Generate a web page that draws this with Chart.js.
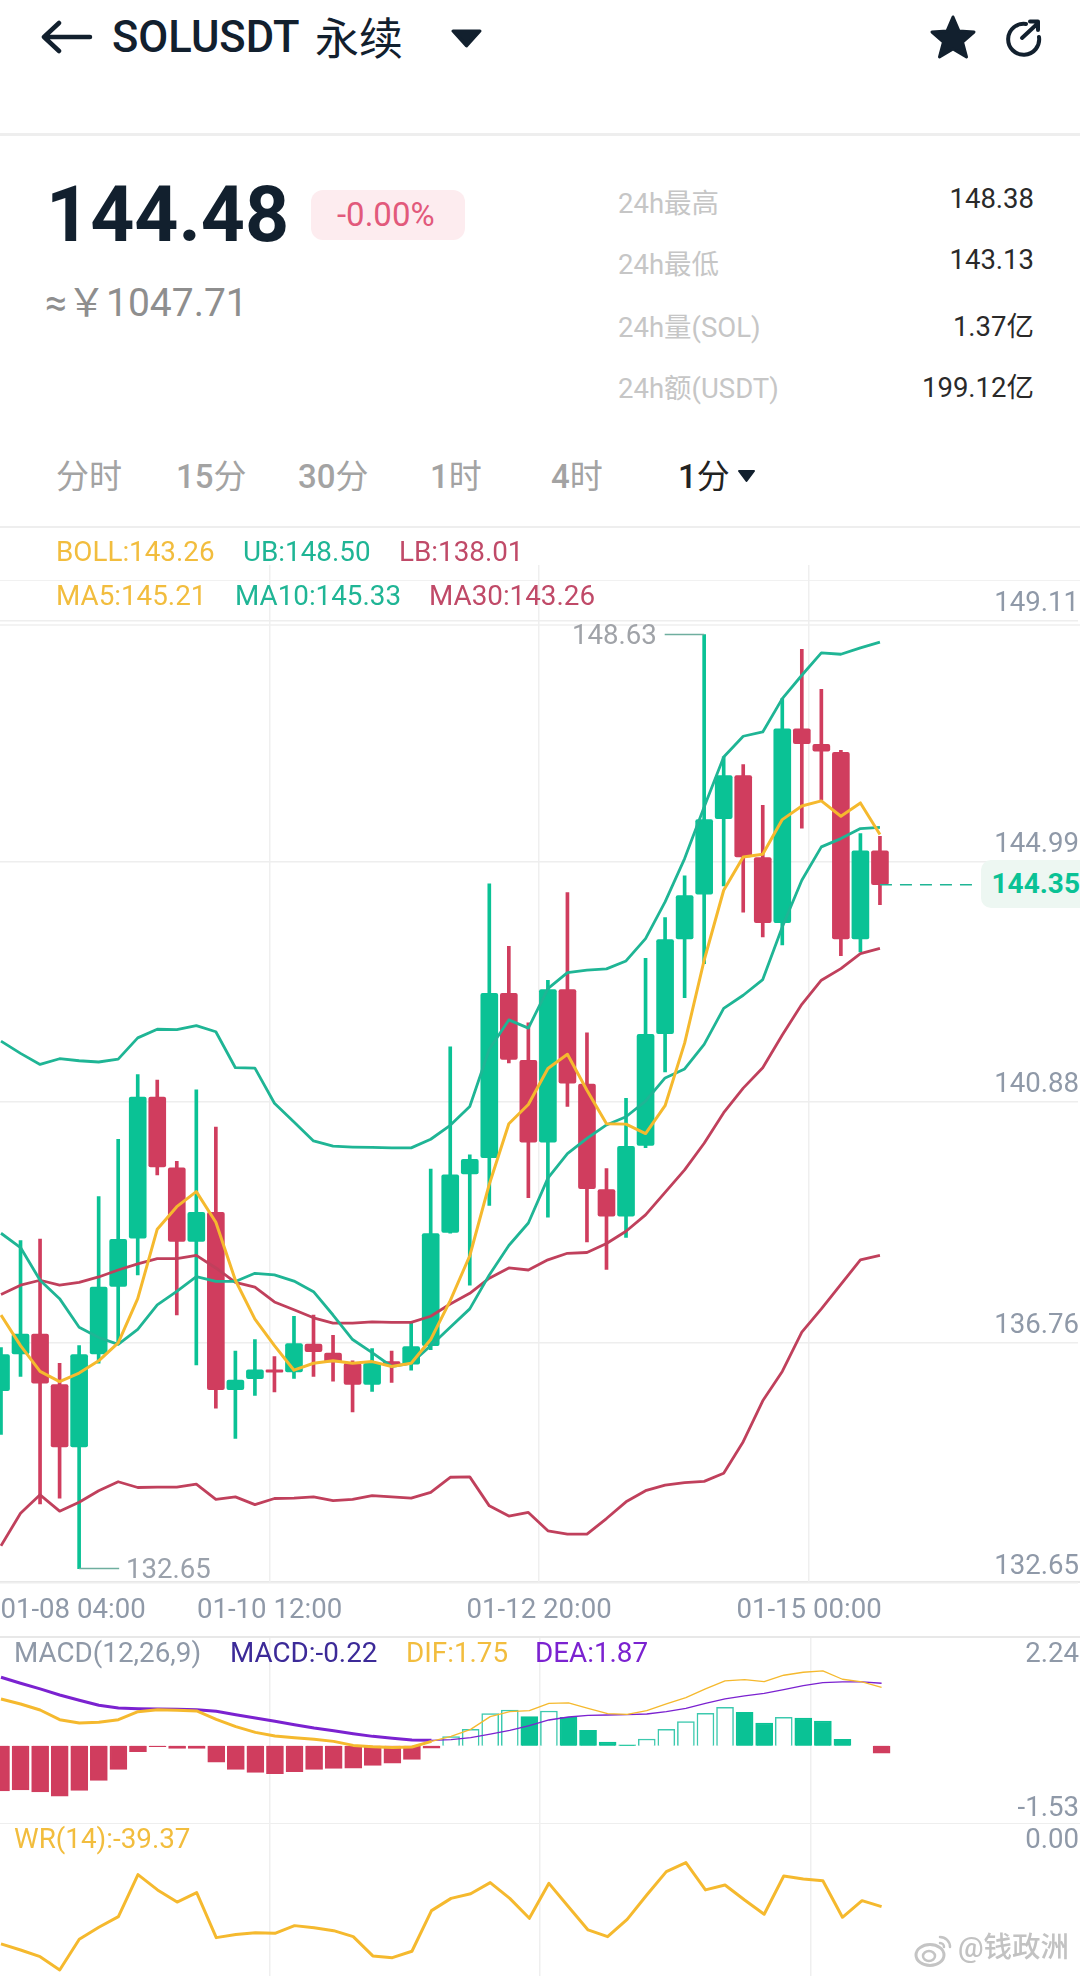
<!DOCTYPE html>
<html lang="zh">
<head>
<meta charset="utf-8">
<title>SOLUSDT</title>
<script src="https://cdn.jsdelivr.net/npm/chart.js@4"></script>
<style>
  html,body{margin:0;padding:0;background:#fff;}
  body{position:relative;width:1080px;height:1976px;overflow:hidden;font-family:Roboto,'Noto Sans CJK SC',sans-serif;}
  canvas{position:absolute;left:0;}
  .t{position:absolute;white-space:nowrap;transform:translateY(-50%);line-height:1.2;}
  .r{transform:translate(-100%,-50%);}
  .hr{position:absolute;left:0;width:1080px;}
  svg{position:absolute;}
  .stat{font-size:27.5px;color:#c6c6c6;left:618px;}
  .val{font-size:27.5px;color:#2a2a2a;left:1034px;}
  .tab{font-size:33px;color:#a3a3a3;font-weight:400;}
  .tab b{font-weight:500;}
  .leg{font-size:27.8px;}
  .ax{font-size:27.6px;color:#8f99a8;left:1079px;}
</style>
</head>
<body>
<!-- header -->
<svg style="left:40px;top:20px" width="54" height="34" viewBox="0 0 54 34"><path d="M19 3 L4 17 L19 31 M4 17 H50" fill="none" stroke="#12202e" stroke-width="4.5" stroke-linecap="round" stroke-linejoin="round"/></svg>
<div class="t" style="left:112px;top:38px;font-size:43.5px;font-weight:500;color:#12202e">SOLUSDT</div>
<div class="t" style="left:315px;top:40px;font-size:44px;font-weight:400;color:#12202e">永续</div>
<svg style="left:450px;top:29px" width="33" height="19" viewBox="0 0 33 19"><path d="M3 2 H30 L16.5 17 Z" fill="#12202e" stroke="#12202e" stroke-width="3" stroke-linejoin="round"/></svg>
<svg style="left:928px;top:14px" width="50" height="46" viewBox="0 0 50 46"><path d="M25 3 L31 17 L46 18 L34.500 28 L38.500 43 L25 35 L11.500 43 L15.500 28 L4 18 L19 17 Z" fill="#12202e" stroke="#12202e" stroke-width="3" stroke-linejoin="round"/></svg>
<svg style="left:1002px;top:18px" width="42" height="40" viewBox="0 0 42 40"><path d="M24 6 A15.500 15.500 0 1 0 37 19" fill="none" stroke="#12202e" stroke-width="4" stroke-linecap="round"/><path d="M20 20 L34 7 M28 3.500 H36 V12" fill="none" stroke="#12202e" stroke-width="4" stroke-linecap="round" stroke-linejoin="round"/></svg>
<div class="hr" style="top:133px;height:3px;background:#eeeeee"></div>

<div class="t" style="left:46px;top:215px;font-size:77px;font-weight:700;color:#12202e">144.48</div>
<div style="position:absolute;left:311px;top:190px;width:154px;height:50px;border-radius:12px;background:#fdecef"></div>
<div class="t" style="left:337px;top:215px;font-size:33px;color:#e2597b">-0.00%</div>
<div class="t" style="left:45px;top:303px;font-size:39px;color:#8e8e8e">≈￥1047.71</div>

<div class="t stat" style="top:203px">24h最高</div>
<div class="t stat" style="top:264px">24h最低</div>
<div class="t stat" style="top:327px">24h量(SOL)</div>
<div class="t stat" style="top:388px">24h额(USDT)</div>
<div class="t r val" style="top:198px">148.38</div>
<div class="t r val" style="top:259px">143.13</div>
<div class="t r val" style="top:326px">1.37亿</div>
<div class="t r val" style="top:387px">199.12亿</div>

<div class="t tab" style="left:56px;top:477px">分时</div>
<div class="t tab" style="left:176px;top:477px"><b>15</b>分</div>
<div class="t tab" style="left:298px;top:477px"><b>30</b>分</div>
<div class="t tab" style="left:430px;top:477px"><b>1</b>时</div>
<div class="t tab" style="left:551px;top:477px"><b>4</b>时</div>
<div class="t tab" style="left:678px;top:477px;color:#222"><b>1</b>分</div>
<svg style="left:737px;top:469px" width="19" height="14" viewBox="0 0 19 14"><path d="M2 2 H17 L9.500 12 Z" fill="#12202e" stroke="#12202e" stroke-width="2" stroke-linejoin="round"/></svg>
<div class="hr" style="top:526px;height:2px;background:#eeeeee"></div>

<!-- panel rules -->
<div class="hr" style="top:580px;height:1px;background:#f1f1f1"></div>
<div class="hr" style="top:624px;height:2px;background:#f3f3f3"></div>
<div class="hr" style="top:1581px;height:2px;background:#e8e8e8"></div>
<div class="hr" style="top:1636px;height:2px;background:#e8e8e8"></div>
<div class="hr" style="top:1823px;height:1px;background:#eeeeee"></div>

<canvas id="mainChart" width="1080" height="1100" style="top:540px"></canvas>
<canvas id="macdChart" width="1080" height="185" style="top:1638px"></canvas>
<canvas id="wrChart" width="1080" height="153" style="top:1823px"></canvas>

<!-- legends -->
<div class="t leg" style="left:56px;top:552px;color:#f2bd3e">BOLL:143.26</div>
<div class="t leg" style="left:243px;top:552px;color:#1fb595">UB:148.50</div>
<div class="t leg" style="left:399px;top:552px;color:#c04a68">LB:138.01</div>
<div class="t leg" style="left:56px;top:596px;color:#f2bd3e">MA5:145.21</div>
<div class="t leg" style="left:235px;top:596px;color:#1fb595">MA10:145.33</div>
<div class="t leg" style="left:429px;top:596px;color:#c04a68">MA30:143.26</div>

<div class="t" style="left:572px;top:635px;font-size:27.6px;color:#a0a3a8">148.63</div>
<div class="t" style="left:126px;top:1569px;font-size:27.6px;color:#9aa1ab">132.65</div>

<div style="position:absolute;left:981px;top:860px;width:99px;height:48px;border-radius:10px 0 0 10px;background:#edf7f2"></div>
<div class="t r" style="left:1080px;top:884px;font-size:28px;font-weight:700;color:#0ac295">144.35</div>

<div class="t leg" style="left:14px;top:1653px;color:#8f99a8">MACD(12,26,9)</div>
<div class="t leg" style="left:230px;top:1653px;color:#3c2a98">MACD:-0.22</div>
<div class="t leg" style="left:406px;top:1653px;color:#f2bd3e">DIF:1.75</div>
<div class="t leg" style="left:535px;top:1653px;color:#7b22d0">DEA:1.87</div>
<div class="t r ax" style="top:1653px">2.24</div>
<div class="t r ax" style="top:1807px">-1.53</div>
<div class="t leg" style="left:14px;top:1839px;color:#f2bd3e">WR(14):-39.37</div>
<div class="t r ax" style="top:1839px">0.00</div>

<!-- watermark -->
<svg style="left:914px;top:1932px" width="40" height="36" viewBox="0 0 40 36"><ellipse cx="16" cy="23" rx="14" ry="10.500" fill="#fff" stroke="#c4c4c4" stroke-width="3"/><ellipse cx="15" cy="24" rx="6" ry="5" fill="none" stroke="#c4c4c4" stroke-width="2.500"/><path d="M26 5 A10 10 0 0 1 36 15 M26 11 A4 4 0 0 1 30 15" fill="none" stroke="#c4c4c4" stroke-width="2.500" stroke-linecap="round"/></svg>
<div class="t" style="left:958px;top:1948px;font-size:28.5px;font-weight:500;color:#c2c2c2">@钱政洲</div>

<script>
// candles, oldest first
const opens = [135.695,136.324,136.66,135.8,134.73,136.324,137.478,138.303,140.716,139.506,138.247,138.744,135.709,135.897,136.051,136.016,136.492,136.338,136.163,135.8,136.191,136.149,136.464,138.401,139.401,139.681,142.492,141.345,139.946,142.556,140.94,139.135,138.681,139.89,141.803,143.423,144.187,145.481,146.217,144.814,143.702,147.016,146.753,146.616,143.423,144.928];
const closes = [136.31,136.66,135.821,134.73,136.31,137.464,138.282,140.716,139.52,138.247,138.744,135.709,135.877,136.051,136.009,136.499,136.359,136.184,135.8,136.163,136.135,136.45,138.38,139.387,139.653,142.492,141.359,139.946,142.556,140.953,139.149,138.681,139.876,141.792,143.411,144.164,145.464,146.217,144.826,143.702,147.016,146.765,146.633,143.423,144.928,144.35];
const highs = [136.429,138.261,138.289,136.163,136.464,139.016,139.995,141.1,141.009,139.618,140.842,140.205,136.373,136.569,136.275,136.967,136.988,136.639,136.205,136.415,136.373,136.849,139.485,141.576,139.73,144.366,143.296,141.988,142.716,144.215,141.814,139.492,140.695,143.092,143.788,144.501,148.63,146.536,146.405,145.709,147.534,148.378,147.694,146.65,145.225,145.179];
const lows = [134.947,135.939,133.758,133.855,132.65,136.163,136.499,137.674,139.387,136.988,136.135,135.394,134.877,135.611,135.674,135.904,135.939,135.855,135.331,135.681,135.835,136.044,136.394,138.387,137.499,138.862,141.303,138.995,138.66,140.555,138.24,137.77,138.317,139.85,141.147,142.419,143.0,144.329,143.879,143.457,143.32,145.316,145.795,143.137,143.2,144.01];

const ma5 = [136.988,136.464,136.023,135.849,135.995,136.205,136.513,137.268,138.457,138.842,139.1,138.576,137.583,136.918,136.464,136.044,136.163,136.205,136.163,136.191,136.107,136.163,136.569,137.233,138.002,139.226,140.261,140.59,141.205,141.45,140.835,140.261,140.254,140.093,140.569,141.639,143.058,144.255,144.826,144.871,145.464,145.698,145.784,145.521,145.749,145.21];
const ma10 = [138.387,138.142,137.583,137.268,136.779,136.604,136.485,136.744,137.163,137.394,137.646,137.562,137.562,137.702,137.674,137.569,137.387,136.988,136.569,136.345,136.107,136.163,136.464,136.779,137.093,137.674,138.177,138.562,139.331,139.751,140.009,140.24,140.38,140.646,141.044,141.198,141.618,142.233,142.459,142.727,143.628,144.426,144.997,145.139,145.31,145.33];
const ma30 = [137.338,137.499,137.583,137.499,137.548,137.639,137.758,137.863,137.953,137.953,138.009,137.793,137.548,137.464,137.212,137.079,136.94,136.849,136.849,136.87,136.863,136.863,136.967,137.177,137.359,137.618,137.793,137.758,137.932,138.044,138.058,138.212,138.422,138.702,139.086,139.471,139.926,140.45,140.87,141.219,141.779,142.303,142.716,142.915,143.172,143.26];
const bollUpper = [141.674,141.464,141.275,141.373,141.338,141.317,141.366,141.73,141.877,141.87,141.939,141.835,141.219,141.212,140.611,140.289,139.967,139.876,139.862,139.855,139.848,139.848,139.995,140.233,140.555,141.534,142.037,141.897,142.573,142.847,142.887,142.91,143.046,143.428,144.056,144.797,145.681,146.536,146.89,146.964,147.534,147.934,148.316,148.293,148.401,148.5];
const bollLower = [133.038,133.597,133.912,133.632,133.786,133.982,134.135,134.037,134.044,134.044,134.093,133.835,133.877,133.744,133.849,133.856,133.877,133.814,133.835,133.898,133.877,133.856,133.954,134.212,134.219,133.723,133.548,133.611,133.296,133.24,133.24,133.506,133.792,133.982,134.079,134.121,134.142,134.282,134.821,135.52,136.023,136.695,137.093,137.513,137.932,138.01];

const macdBars = [-1.35,-1.32,-1.38,-1.51,-1.34,-1.04,-0.71,-0.18,-0.03,-0.08,-0.08,-0.49,-0.71,-0.80,-0.84,-0.78,-0.71,-0.68,-0.67,-0.59,-0.52,-0.41,-0.07,0.27,0.49,0.96,1.07,0.87,1.04,0.85,0.46,0.11,0.03,0.20,0.49,0.72,0.97,1.15,1.00,0.68,0.85,0.83,0.74,0.19,0,-0.22];
const dif = [1.40,1.25,1.07,0.78,0.68,0.70,0.78,1.02,1.08,1.06,1.04,0.79,0.57,0.40,0.29,0.24,0.19,0.13,0.01,-0.03,-0.05,-0.04,0.13,0.28,0.49,0.87,1.02,1.05,1.27,1.28,1.12,0.96,0.94,1.05,1.25,1.44,1.70,1.94,1.98,1.92,2.11,2.20,2.24,1.99,1.91,1.75];
const dea = [2.05,1.87,1.70,1.52,1.36,1.21,1.13,1.11,1.10,1.09,1.08,1.03,0.93,0.83,0.73,0.63,0.53,0.45,0.36,0.28,0.22,0.17,0.16,0.18,0.24,0.35,0.46,0.60,0.77,0.86,0.91,0.92,0.93,0.95,1.02,1.12,1.27,1.40,1.49,1.57,1.68,1.80,1.89,1.91,1.91,1.87];
const wr = [-68.9,-73.7,-79.0,-89.5,-65.2,-55.7,-47.3,-14.0,-26.1,-35.7,-28.3,-63.9,-61.5,-60.0,-60.5,-54.4,-56.0,-58.4,-63.1,-78.4,-79.8,-74.7,-42.5,-32.8,-29.1,-20.3,-32.8,-48.6,-20.9,-39.4,-57.8,-63.1,-49.4,-30.1,-11.6,-4.5,-26.1,-22.2,-34.1,-45.4,-15.1,-17.4,-18.8,-47.8,-34.6,-39.37];

const xTickLabels = ['01-08 04:00','01-10 12:00','01-12 20:00','01-15 00:00'];
const xTickSlots = [3.69,13.75,27.55,41.37];
const yTickLabels = [149.11,144.99,140.88,136.76,132.65];
// the printed axis sits this far above the candle prices (see 148.63 / 144.35 in the picture)
const axisOffset = 0.24;
const lastPrice = 144.35;

const GREEN='#0ac295', RED='#d03d5e', LINE_TEAL='#1fb595', LINE_RED='#c0405c', LINE_YELLOW='#f5b92e', PURPLE='#7b22d0';
const candleIndex = opens.map((_,i)=>i);
const isUp = i => closes[i]>=opens[i];
const candleColors = candleIndex.map(i=>isUp(i)?GREEN:RED);
const xMin=-0.051, xMax=55.14;

function series(values){ return values.map((v,i)=>({x:i,y:v})); }
function lineSet(values,color,width,extra){
  return Object.assign({type:'line',data:series(values),borderColor:color,borderWidth:width,pointRadius:0,tension:0,order:1,borderJoinStyle:'round'},extra||{});
}
function xAxis(withLabels,bottomH){
  return {
    type:'linear',min:xMin,max:xMax,offset:false,
    afterBuildTicks:s=>{ s.ticks=xTickSlots.map(v=>({value:v})); },
    afterFit:s=>{ s.height=bottomH; },
    border:{display:false},
    grid:{offset:false,color:c=>c.index===0?'rgba(0,0,0,0)':'#efefef',lineWidth:1.5,drawTicks:withLabels,tickLength:12,tickColor:'rgba(0,0,0,0)'},
    ticks:{display:withLabels,autoSkip:false,maxRotation:0,padding:0,color:'#8f99a8',font:{family:'Roboto',size:27.6},callback:(v,i)=>xTickLabels[i]}
  };
}
const baseOptions={responsive:false,animation:false,events:[],plugins:{legend:{display:false},tooltip:{enabled:false}}};

new Chart(document.getElementById('mainChart'),{
  type:'bar',
  data:{datasets:[
    lineSet(ma5,LINE_YELLOW,3),
    lineSet(ma10,LINE_TEAL,2.8),
    lineSet(ma30,LINE_RED,2.8),
    lineSet(bollUpper,LINE_TEAL,2.8),
    lineSet(bollLower,LINE_RED,2.8),
    {type:'line',data:[{x:45,y:lastPrice},{x:50.1,y:lastPrice}],borderColor:LINE_TEAL,borderWidth:1.5,borderDash:[12,8],pointRadius:0,order:1},
    {type:'line',data:[{x:33.98,y:highs[36]},{x:36,y:highs[36]}],borderColor:'#6fae9f',borderWidth:1.5,pointRadius:0,order:1},
    {type:'line',data:[{x:4,y:lows[4]},{x:6.05,y:lows[4]}],borderColor:'#6fae9f',borderWidth:1.5,pointRadius:0,order:1},
    {data:candleIndex.map(i=>({x:i,y:[opens[i],closes[i]]})),backgroundColor:candleColors,barThickness:17,grouped:false,borderRadius:2,borderSkipped:false,order:2},
    {data:candleIndex.map(i=>({x:i,y:[lows[i],highs[i]]})),backgroundColor:candleColors,barThickness:3,grouped:false,order:3}
  ]},
  options:Object.assign({},baseOptions,{
    layout:{padding:{top:25,left:0,right:0,bottom:0}},
    scales:{
      x:xAxis(true,57.4),
      y:{
        position:'right',min:yTickLabels[4]-axisOffset,max:149.82,
        afterBuildTicks:s=>{ s.ticks=yTickLabels.map(l=>({value:l-axisOffset})); },
        border:{display:false},
        grid:{color:'#eeeeee',lineWidth:1.5,drawTicks:false},
        ticks:{mirror:true,padding:1,labelOffset:-16,autoSkip:false,color:'#8f99a8',font:{family:'Roboto',size:27.6},callback:(v,i)=>yTickLabels[i].toFixed(2)}
      }
    }
  })
});

const macdFill=macdBars.map((v,i)=>{
  if(v<0) return RED;
  return (i>0 && v>=macdBars[i-1]) ? '#ffffff' : '#0ac295';
});
const macdEdge=macdBars.map((v,i)=>{
  if(v<0) return RED;
  return (i>0 && v>=macdBars[i-1]) ? '#3cc9ae' : '#0ac295';
});
// the two macd lines thin out after bar 22 in the source app
const thinAfter=c=>c.p0DataIndex<22?3:1.3;

new Chart(document.getElementById('macdChart'),{
  type:'bar',
  data:{datasets:[
    lineSet(dif,LINE_YELLOW,3,{segment:{borderWidth:thinAfter}}),
    lineSet(dea,PURPLE,3,{segment:{borderWidth:thinAfter}}),
    {data:series(macdBars),backgroundColor:macdFill,borderColor:macdEdge,borderWidth:1.5,barThickness:17,grouped:false,order:2}
  ]},
  options:Object.assign({},baseOptions,{
    layout:{padding:0},
    scales:{x:xAxis(false,0),y:{display:false,min:-2.314,max:3.225}}
  })
});

new Chart(document.getElementById('wrChart'),{
  type:'line',
  data:{datasets:[lineSet(wr,LINE_YELLOW,3)]},
  options:Object.assign({},baseOptions,{
    layout:{padding:0},
    scales:{x:xAxis(false,0),y:{display:false,min:-94.3,max:26.9}}
  })
});
</script>
</body>
</html>
